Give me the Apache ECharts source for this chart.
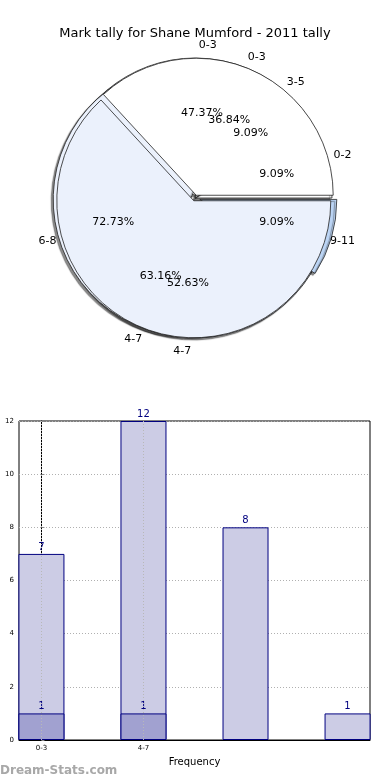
<!DOCTYPE html>
<html>
<head>
<meta charset="utf-8">
<script src="https://cdn.jsdelivr.net/npm/echarts@6/dist/echarts.min.js"></script>
<style>html,body{margin:0;padding:0;background:#fff}#c{width:390px;height:780px}</style>
</head>
<body>
<div id="c"></div>
<script>
// ---- data ----
var titleText = 'Mark tally for Shane Mumford - 2011 tally';
var pieANames = ['0-3', '4-7'];
var pieAValues = [9, 10];
var pieBNames = ['0-3', '4-7'];
var pieBValues = [7, 12];
var pieCNames = ['0-2', '3-5', '6-8', '9-11'];
var pieCValues = [1, 1, 8, 1];

var barCats = ['0-3', '4-7'];
var barPos = [0, 1, 2, 3];
var barTotal = [7, 12, 8, 1];
var barPart = [1, 1];
var yTicks = [0, 2, 4, 6, 8, 10, 12];
var gridX = [0, 1];

// ---- styles ----
var R = 137;
var CX = 195, CY = 198;
var WHITE = '#ffffff', LIGHT = '#ebf1fc', BLUE = '#bcd5f5';

function sum(a){return a.reduce(function(s,v){return s+v;},0);}
function mk(names, values, colors, sel){
  return names.map(function(n,i){
    return {name:n, value:values[i], selected: !!(sel && sel[i]), itemStyle:{color:colors[i]}};
  });
}
function pct(values){
  var t = sum(values);
  return function(p){ return (p.value / t * 100).toFixed(2) + '%'; };
}
var sectorBase = {
  type:'pie', center:[CX, CY], radius:[0, R], startAngle:0, clockwise:false,
  avoidLabelOverlap:false, silent:true, label:{show:false}, labelLine:{show:false},
  selectedMode:'multiple', selectedOffset:3,
  emphasis:{disabled:true}
};
function sectors(names, values, colors, sel, z, off, shadow){
  return Object.assign({}, sectorBase, {
    z:z, selectedOffset:off,
    itemStyle:Object.assign({borderColor:'#222', borderWidth:0.8},
      shadow ? {shadowColor:'rgba(0,0,0,0.45)', shadowOffsetX:-2, shadowOffsetY:2, shadowBlur:1} : {}),
    data: mk(names, values, colors, sel)
  });
}
function labels(names, values, r, fmt){
  return {
    type:'pie', center:[CX, CY], radius:[r-4, r+4], startAngle:0, clockwise:false,
    avoidLabelOverlap:false, silent:true, z:10,
    itemStyle:{color:'rgba(0,0,0,0)', borderWidth:0},
    label:{show:true, position:'inside', color:'#000', fontSize:11, fontFamily:'DejaVu Sans', formatter:fmt},
    labelLayout:{hideOverlap:false},
    labelLine:{show:false}, emphasis:{disabled:true},
    data: names.map(function(n,i){return {name:n, value:values[i]};})
  };
}

var chart = echarts.init(document.getElementById('c'), null, {renderer:'canvas'});
chart.setOption({
  animation:false,
  backgroundColor:'#fff',
  title:{text:titleText, left:'center', top:22, textStyle:{fontFamily:'DejaVu Sans', fontSize:13, fontWeight:'normal', color:'#000'}},
  grid:{left:19, right:20, top:421, bottom:40, containLabel:false, outerBoundsMode:'none',
    show:true, borderColor:'#000', borderWidth:1, backgroundColor:'transparent'},
  xAxis:{
    type:'value', min:-0.22, max:3.22,
    name:'Frequency', nameLocation:'middle', nameGap:17,
    nameTextStyle:{fontFamily:'DejaVu Sans', fontSize:10, color:'#000'},
    axisLine:{show:true, lineStyle:{color:'#000'}},
    axisTick:{show:true, inside:true, length:3, customValues:gridX, lineStyle:{color:'#888'}},
    axisLabel:{show:true, customValues:gridX, fontFamily:'DejaVu Sans', fontSize:7, color:'#000', margin:5,
      formatter:function(v){ return barCats[Math.round(v)] || ''; }},
    splitLine:{show:false}
  },
  yAxis:{
    type:'value', min:0, max:12, interval:2,
    name:'Distribution', nameLocation:'middle', nameGap:21, nameRotate:90,
    nameTextStyle:{fontFamily:'DejaVu Sans', fontSize:10, color:'#000'},
    axisLine:{show:true, lineStyle:{color:'#000'}},
    axisTick:{show:true, inside:true, length:3, lineStyle:{color:'#888'}},
    axisLabel:{fontFamily:'DejaVu Sans', fontSize:7, color:'#000', margin:5,
      formatter:function(v){ return yTicks.indexOf(v) >= 0 ? String(v) : ''; }},
    splitLine:{show:true, lineStyle:{color:'#b0b0b0', type:[1,2], width:1}}
  },
  graphic:[{type:'text', left:0, top:765, style:{text:'Dream-Stats.com', fill:'#a8a8a8', font:'bold 12px "DejaVu Sans"'}}],
  series:[
    sectors(pieANames, pieAValues, [WHITE, LIGHT], [true, true], 1, 3, true),
    sectors(pieCNames, pieCValues, [WHITE, WHITE, LIGHT, BLUE], [false, false, true, true], 2, 5, true),
    sectors(pieBNames, pieBValues, [WHITE, LIGHT], [true, true], 3, 3, false),
    labels(pieANames, pieAValues, R*1.1, '{b}'),
    labels(pieBNames, pieBValues, R*1.1, '{b}'),
    labels(pieCNames, pieCValues, R*1.1, '{b}'),
    labels(pieANames, pieAValues, R*0.6, pct(pieAValues)),
    labels(pieBNames, pieBValues, R*0.6, pct(pieBValues)),
    labels(pieCNames, pieCValues, R*0.6, pct(pieCValues)),
    {
      type:'bar', barWidth:46, barGap:'-100%', z:2,
      itemStyle:{color:'#ccccE5', borderColor:'#000080', borderWidth:1},
      label:{show:true, position:'top', distance:2, color:'#000080', fontFamily:'DejaVu Sans', fontSize:10},
      data: barPos.map(function(x,i){return [x, barTotal[i]];}),
      markLine:{silent:true, symbol:'none', label:{show:false},
        lineStyle:{color:'#b8b8b8', type:[1,2], width:1},
        data: gridX.map(function(x){return {xAxis:x};})}
    },
    {
      type:'bar', barWidth:46, barGap:'-100%', z:3,
      itemStyle:{color:'#a1a1d0', borderColor:'#000080', borderWidth:1},
      label:{show:true, position:'top', distance:2, color:'#000080', fontFamily:'DejaVu Sans', fontSize:10},
      data: barPart.map(function(v,i){return [barPos[i], v];})
    }
  ]
});
</script>
</body>
</html>
